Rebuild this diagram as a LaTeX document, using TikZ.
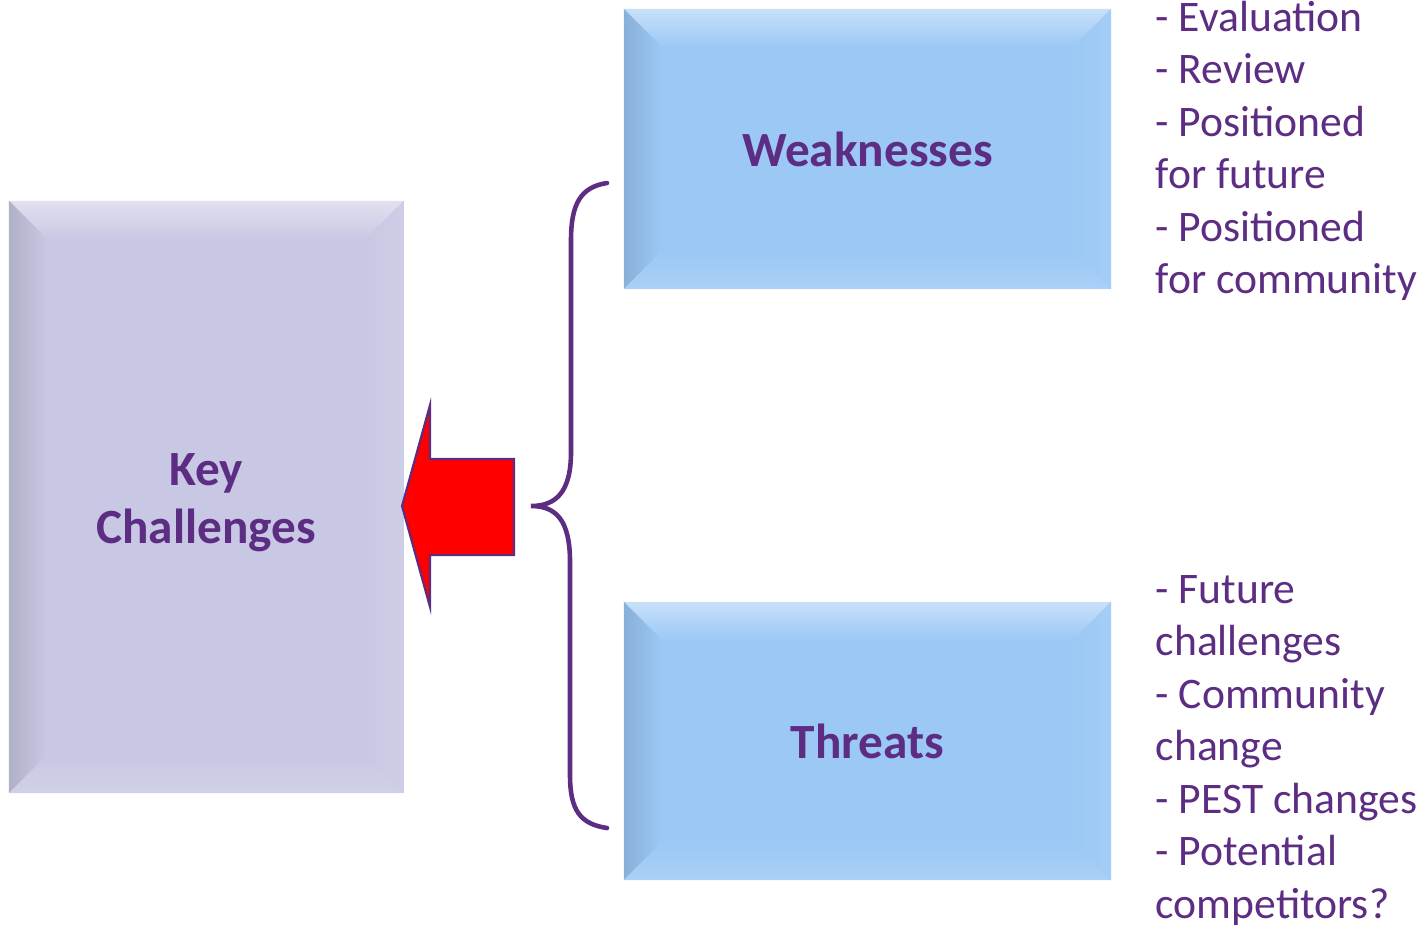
\documentclass[tikz,border=0pt]{standalone}
\usepackage{fontspec}
\setmainfont{Carlito}
\usetikzlibrary{positioning}
\definecolor{plum}{HTML}{5C2D82}
\definecolor{lilac}{HTML}{C8C8E4}
\definecolor{sky}{HTML}{9BC8F5}
\definecolor{alarm}{HTML}{FF0000}
\tikzset{
  bevelbox/.style={fill=#1, inner sep=0pt, text=plum, align=center,
    font=\fontsize{14pt}{16.5pt}\selectfont\bfseries,
    path picture={
      \path (path picture bounding box.north west) coordinate (p1)
            (path picture bounding box.north east) coordinate (p2)
            (path picture bounding box.south east) coordinate (p3)
            (path picture bounding box.south west) coordinate (p4)
            ([shift={(.38cm,-.38cm)}]p1) coordinate (q1)
            ([shift={(-.38cm,-.38cm)}]p2) coordinate (q2)
            ([shift={(-.38cm,.38cm)}]p3) coordinate (q3)
            ([shift={(.38cm,.38cm)}]p4) coordinate (q4);
      % top, left, right, bottom bevels
      \shade[top color=#1!55!white, middle color=#1!12!white, bottom color=#1]
        (p1) -- (p2) -- (q2) -- (q1) -- cycle;
      \shade[left color=#1!88!black, right color=#1]
        (p1) -- (q1) -- (q4) -- (p4) -- cycle;
      \shade[left color=#1, right color=#1!90!white]
        (p2) -- (q2) -- (q3) -- (p3) -- cycle;
      \shade[top color=#1, bottom color=#1!85!white]
        (p4) -- (q4) -- (q3) -- (p3) -- cycle;
    }},
  listline/.style={anchor=base west, inner sep=0pt, text=plum,
    font=\fontsize{12.4pt}{15pt}\selectfont},
  brace/.style={draw=plum, line width=1.3pt, line cap=round},
  arrowbox/.style={fill=alarm, draw=plum, line width=.6pt, line join=miter}
}
\begin{document}
\begin{tikzpicture}[x=0.01cm,y=-0.01cm]
\useasboundingbox (0,0) rectangle (1419,929);

% boxes
\node[bevelbox=lilac, minimum width=3.95cm, minimum height=5.92cm] (keych) at (206.5,497) {};
\node[bevelbox=sky, minimum width=4.87cm, minimum height=2.80cm] (weak) at (867.5,149) {Weaknesses};
\node[bevelbox=sky, minimum width=4.87cm, minimum height=2.78cm] (threat) at (867.5,741) {Threats};
\node[text=plum, align=center, font=\fontsize{14pt}{16.5pt}\selectfont\bfseries]
  (keytxt) at (206,503) {Key\\Challenges};

% arrow into key challenges
\draw[arrowbox] (402,506) -- (430,405) -- (430,459) -- (514,459) -- (514,555)
  -- (430,555) -- (430,607) -- cycle;

% brace
\coordinate (btop) at (607,183);
\coordinate (btip) at (531,506);
\coordinate (bbot) at (607,828);
\draw[brace] (btop) .. controls (580,187) and (571,205) .. (571,240) -- (571,452)
  .. controls (571,492) and (556,506) .. (btip)
  .. controls (556,506) and (570,520) .. (570,562) -- (570,775)
  .. controls (570,810) and (580,824) .. (bbot);

% lists
\foreach \y/\t [count=\i] in {31/- Evaluation,83.5/- Review,136/- Positioned,
  188.5/for future,241/- Positioned,293.5/for community}
  \node[listline] (wk\i) at (1155,\y) {\t};
\foreach \y/\t [count=\i] in {603/- Future,655.5/challenges,708/- Community,
  760.5/change,813/- PEST changes,865.5/- Potential,918/competitors?}
  \node[listline] (th\i) at (1155,\y) {\t};
\end{tikzpicture}
\end{document}
